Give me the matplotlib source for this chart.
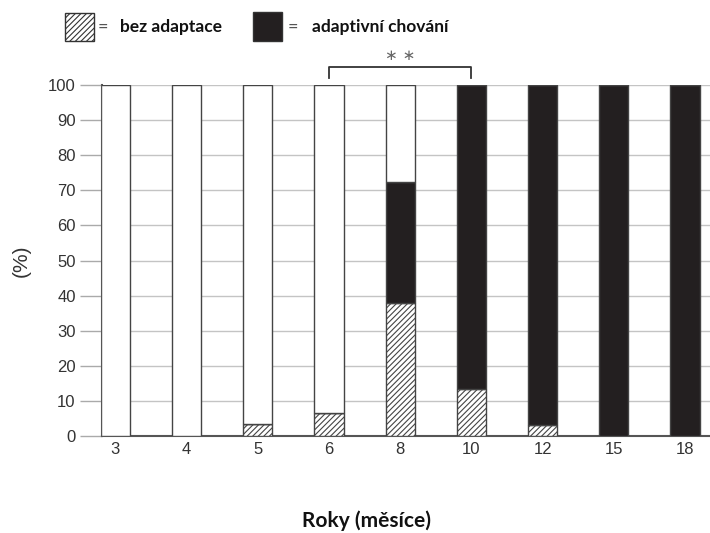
import matplotlib
matplotlib.use("Agg")
import matplotlib.pyplot as plt
import numpy as np
from matplotlib.patches import Rectangle

categories = ["3", "4", "5", "6", "8", "10", "12", "15", "18"]
bez_adaptace = [0, 0, 3.4, 6.5, 37.8, 13.3, 3.1, 0, 0]
adaptivni = [0, 0, 0, 0, 34.6, 86.7, 96.9, 100, 100]
yticks = [0, 10, 20, 30, 40, 50, 60, 70, 80, 90, 100]

plt.rcParams['font.family'] = ['Liberation Sans', 'DejaVu Sans']
plt.rcParams['hatch.linewidth'] = 0.8
plt.rcParams['hatch.color'] = '#333333'

fig = plt.figure(figsize=(7.10, 5.33), dpi=100)
ax = fig.add_axes([0.1437, 0.182, 0.8563, 0.6585])

x = np.arange(len(categories))
w = 0.41
black = '#231f20'
edge = '#444444'
hatched = np.array(bez_adaptace)
blk = np.array(adaptivni)
rest = 100 - hatched - blk

ax.bar(x, hatched, w, color='white', edgecolor=edge, hatch='//////', linewidth=1.0, zorder=3)
ax.bar(x, blk, w, bottom=hatched, color=black, edgecolor=edge, linewidth=1.0, zorder=3)
ax.bar(x, rest, w, bottom=hatched + blk, color='white', edgecolor=edge, linewidth=1.0, zorder=3)

ax.set_xlim(-0.185, 8.35)
ax.set_ylim(0, 100)
ax.set_yticks(yticks)
ax.set_xticks(x)
ax.set_xticklabels(categories)
ax.yaxis.grid(True, color='#c4c4c4', linewidth=1.0, zorder=0)
ax.set_axisbelow(True)
for s in ['top', 'right']:
    ax.spines[s].set_visible(False)
ax.spines['left'].set_color('#555555')
ax.spines['left'].set_linewidth(1.5)
ax.spines['bottom'].set_color('#555555')
ax.spines['bottom'].set_linewidth(1.5)
ax.tick_params(axis='y', length=16, color='#aaaaaa', width=1.0, pad=3,
               labelsize=12, labelcolor='#333333')
ax.tick_params(axis='x', length=0, pad=4, labelsize=12, labelcolor='#333333')

ax.set_ylabel('(%)', fontsize=15, color='#333333', labelpad=12)
fig.text(367 / 710, 1 - 521 / 533, 'Roky (měsíce)', ha='center', va='center',
         fontsize=15, fontweight='bold', family='Lato', color='#111111')

# significance bracket between 6 and 10
x0, x1 = 3, 5
ax.plot([x0, x0, x1, x1], [102, 105, 105, 102], color='#333333', lw=1.3, clip_on=False)
ax.text((x0 + x1) / 2, 108.5, '∗ ∗', ha='center', va='center', fontsize=11,
        color='#666666', family='DejaVu Sans')

# legend
lx = fig.add_axes([0, 0, 1, 1], facecolor='none')
lx.set_xlim(0, 710)
lx.set_ylim(533, 0)
lx.axis('off')
lx.add_patch(Rectangle((65, 13), 29, 28, facecolor='white', edgecolor='#333333', hatch='//////', lw=1.0))
lx.text(98, 27, '=', fontsize=13, va='center', ha='left', color='#555555', family='Lato')
lx.text(120, 27, 'bez adaptace', fontsize=12.5, va='center', ha='left', fontweight='bold', family='Lato', color='#111111')
lx.add_patch(Rectangle((253, 12), 29, 29, facecolor=black, edgecolor='#333333', lw=1.0))
lx.text(288, 27, '=', fontsize=13, va='center', ha='left', color='#555555', family='Lato')
lx.text(312, 27, 'adaptivní chování', fontsize=12.5, va='center', ha='left', fontweight='bold', family='Lato', color='#111111')

fig.savefig('out.png', dpi=100)
